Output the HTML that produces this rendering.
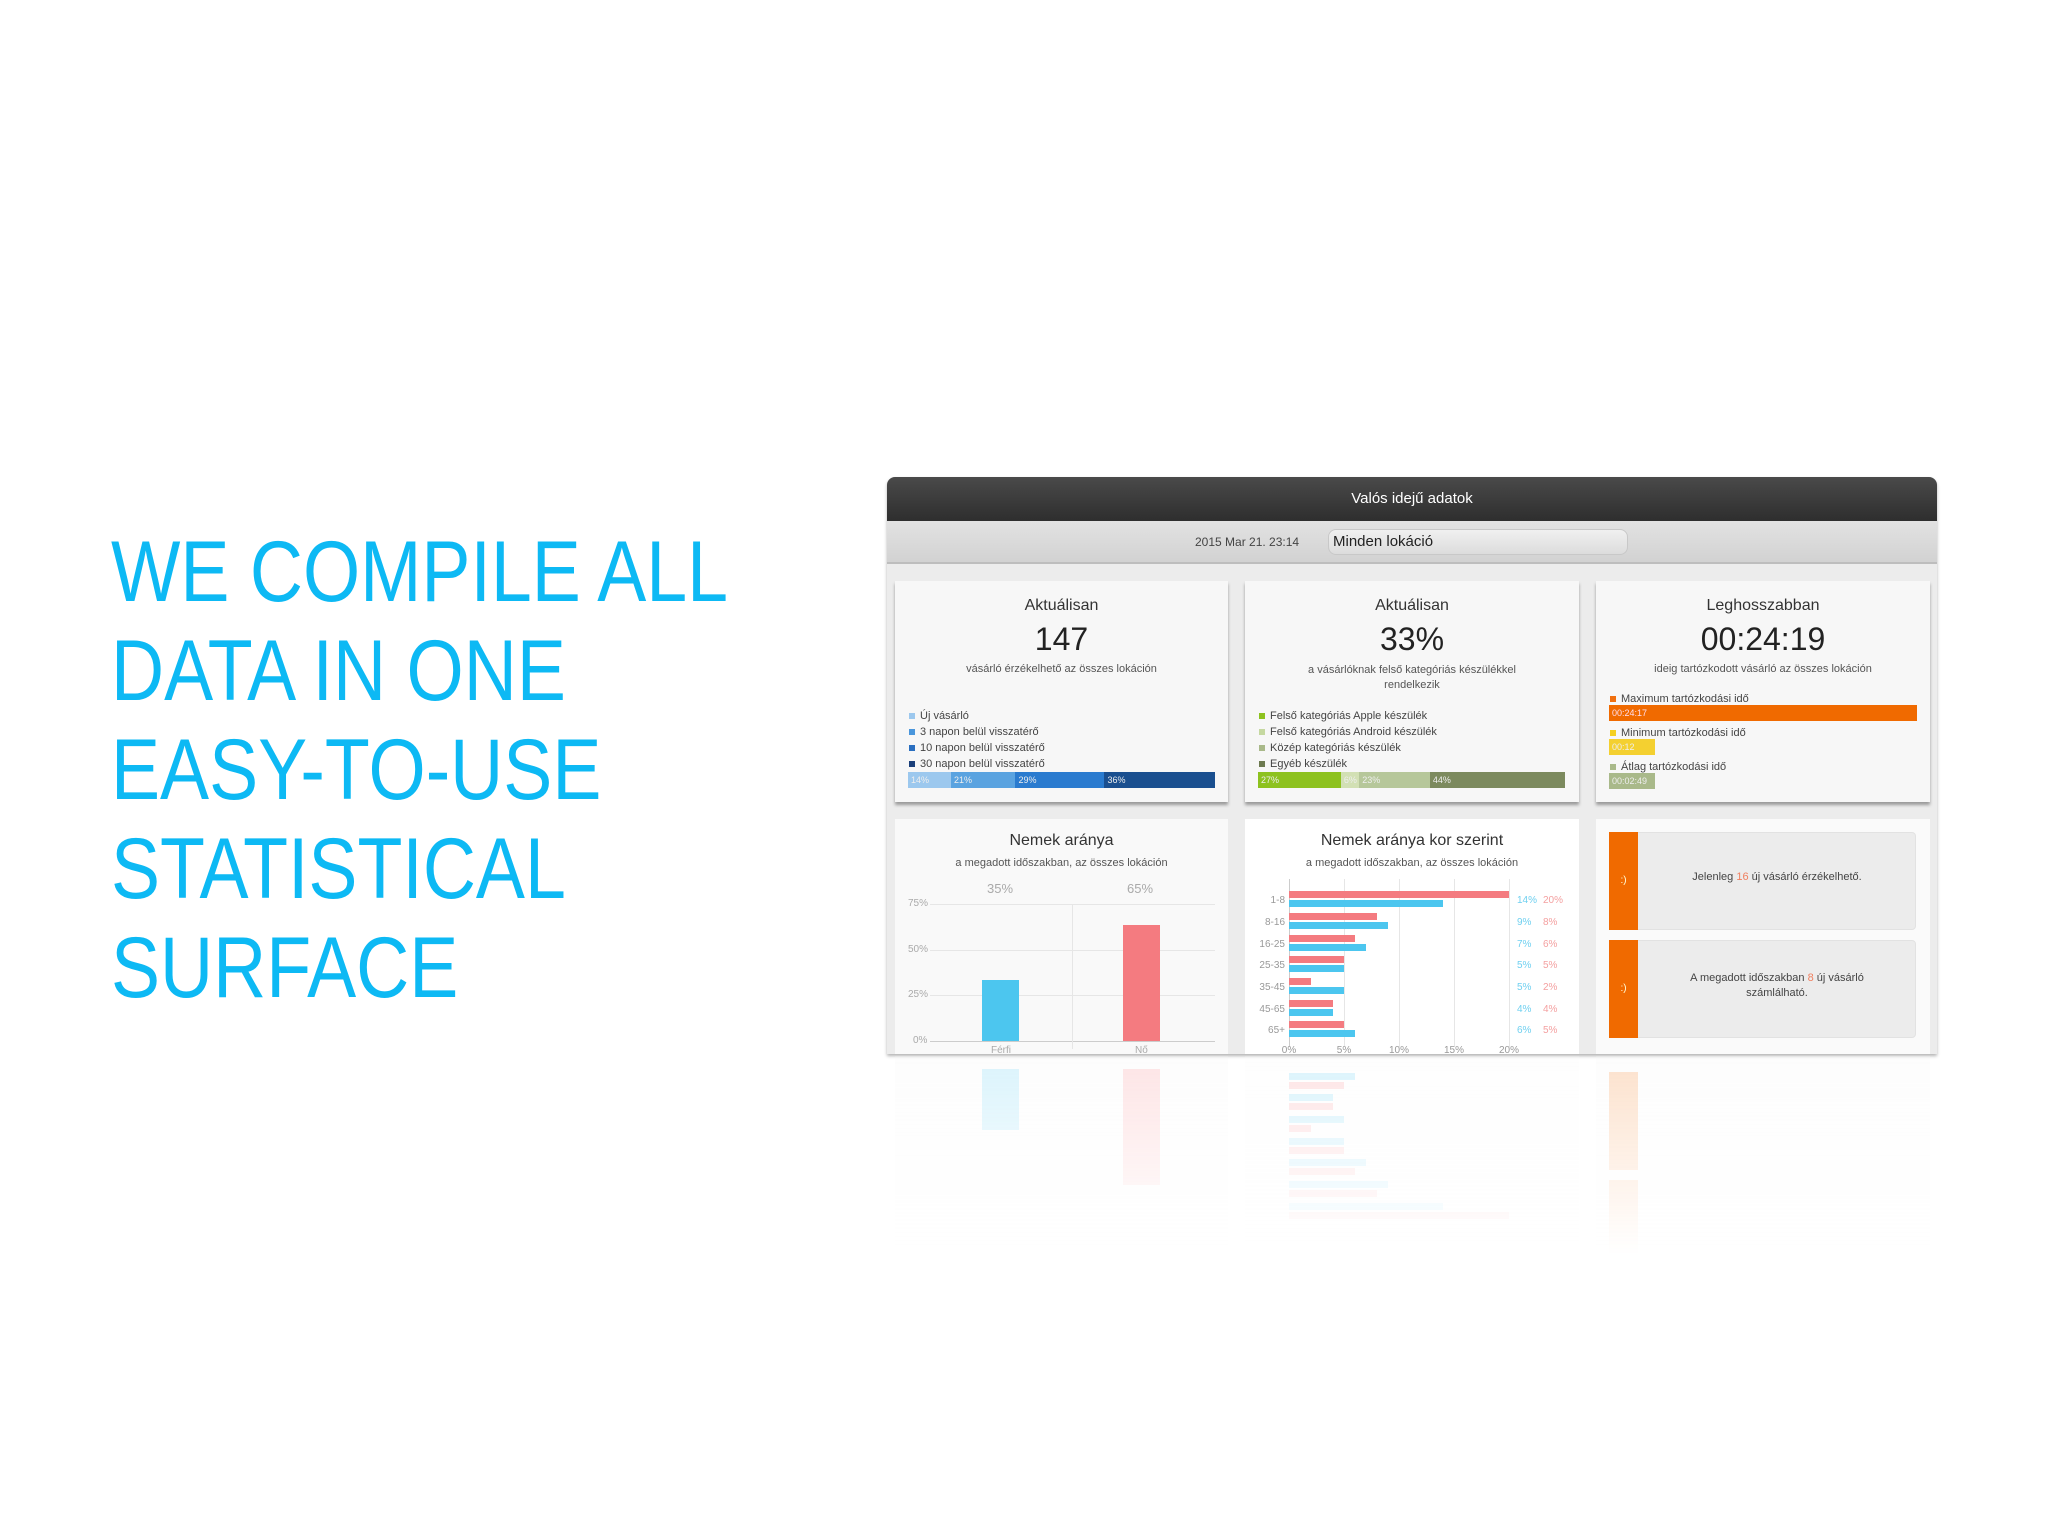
<!DOCTYPE html>
<html><head><meta charset="utf-8"><style>
*{margin:0;padding:0;box-sizing:border-box}
body{width:2048px;height:1536px;background:#fff;position:relative;overflow:hidden;font-family:"Liberation Sans",sans-serif;color:#333}
.t{position:absolute;left:111px;top:523px;font-size:86px;line-height:99px;color:#0db9f4;white-space:nowrap;transform:scaleX(0.855);transform-origin:left top;font-weight:300}
.a{position:absolute}
.card{position:absolute;background:#f7f7f7;box-shadow:0 3px 3px rgba(0,0,0,.35)}
.c{position:absolute;left:0;right:0;text-align:center}
.lg{position:absolute;left:14px;font-size:11px;color:#444}
.lg i{display:inline-block;width:6px;height:6px;margin-right:5px}
.bar{position:absolute;display:flex;height:16px;font-size:9px;color:#eee;line-height:16px}
.bar div{padding-left:3px}
.sm{font-size:11px;color:#555}
.gl{position:absolute;height:1px;background:#e6e6e6}
.vl{position:absolute;width:1px;background:#e6e6e6}
.ax{position:absolute;font-size:10px;color:#aaa}
</style></head><body>
<div class="t">WE COMPILE ALL<br>DATA IN ONE<br>EASY-TO-USE<br>STATISTICAL<br>SURFACE</div>

<div class="a" style="left:887px;top:477px;width:1050px;height:577px;background:#ececec;border-radius:8px 8px 0 0;overflow:hidden;box-shadow:0 2px 3px rgba(0,0,0,.3)">
 <div class="a" style="left:0;top:0;width:1050px;height:44px;background:linear-gradient(#4a4a4a,#2e2e2e);color:#fff;font-size:15px;text-align:center;line-height:44px">Valós idejű adatok</div>
 <div class="a" style="left:0;top:44px;width:1050px;height:43px;background:linear-gradient(#e2e2e2,#d2d2d2);border-bottom:2px solid #bdbdbd"></div>
 <div class="a" style="left:308px;top:58px;font-size:12px;color:#444">2015 Mar 21. 23:14</div>
 <div class="a" style="left:441px;top:52px;width:300px;height:26px;border-radius:8px;background:linear-gradient(#f0f0f0,#dcdcdc);border:1px solid #c8c8c8;font-size:15px;line-height:24px;padding-left:4px;color:#222">Minden lokáció</div>
</div>

<div class="card" style="left:895px;top:581px;width:333px;height:221px">
 <div class="c" style="top:16px;font-size:16px">Aktuálisan</div>
 <div class="c" style="top:40px;font-size:32px;color:#222">147</div>
 <div class="c sm" style="top:82px">vásárló érzékelhető az összes lokáción</div>
 <div class="lg" style="top:129px"><i style="background:#9cc8ee"></i>Új vásárló</div>
 <div class="lg" style="top:145px"><i style="background:#4a96dc"></i>3 napon belül visszatérő</div>
 <div class="lg" style="top:161px"><i style="background:#2a6fc0"></i>10 napon belül visszatérő</div>
 <div class="lg" style="top:177px"><i style="background:#1a3f7a"></i>30 napon belül visszatérő</div>
 <div class="bar" style="left:13px;top:191px;width:307px"><div style="width:14%;background:#9cc8ee">14%</div><div style="width:21%;background:#5aa3e0">21%</div><div style="width:29%;background:#2a7bcf">29%</div><div style="width:36%;background:#1a4f8f">36%</div></div>
</div>
<div class="card" style="left:1245px;top:581px;width:334px;height:221px">
 <div class="c" style="top:16px;font-size:16px">Aktuálisan</div>
 <div class="c" style="top:40px;font-size:32px;color:#222">33%</div>
 <div class="c sm" style="top:82px;line-height:15px">a vásárlóknak felső kategóriás készülékkel<br>rendelkezik</div>
 <div class="lg" style="top:129px"><i style="background:#8dc21f"></i>Felső kategóriás Apple készülék</div>
 <div class="lg" style="top:145px"><i style="background:#c5d8a0"></i>Felső kategóriás Android készülék</div>
 <div class="lg" style="top:161px"><i style="background:#a9b98a"></i>Közép kategóriás készülék</div>
 <div class="lg" style="top:177px"><i style="background:#6d7a50"></i>Egyéb készülék</div>
 <div class="bar" style="left:13px;top:191px;width:307px"><div style="width:27%;background:#8dc21f">27%</div><div style="width:6%;background:#d2e0b4">6%</div><div style="width:23%;background:#b6c79a">23%</div><div style="width:44%;background:#7c8a5e">44%</div></div>
</div>
<div class="card" style="left:1596px;top:581px;width:334px;height:221px">
 <div class="c" style="top:16px;font-size:16px">Leghosszabban</div>
 <div class="c" style="top:40px;font-size:32px;color:#222">00:24:19</div>
 <div class="c sm" style="top:82px">ideig tartózkodott vásárló az összes lokáción</div>
 <div class="lg" style="top:112px"><i style="background:#f07010"></i>Maximum tartózkodási idő</div>
 <div class="bar" style="left:13px;top:124px;width:308px;background:#f06a00;color:#fde"><div>00:24:17</div></div>
 <div class="lg" style="top:146px"><i style="background:#f5d020"></i>Minimum tartózkodási idő</div>
 <div class="bar" style="left:13px;top:158px;width:46px;background:#f4d030"><div>00:12</div></div>
 <div class="lg" style="top:180px"><i style="background:#a9b98a"></i>Átlag tartózkodási idő</div>
 <div class="bar" style="left:13px;top:192px;width:46px;background:#a9b98a"><div>00:02:49</div></div>
</div>

<div class="a" style="left:887px;top:819px;width:1050px;height:235px;overflow:hidden">
 <div class="a" style="left:8px;top:0;width:333px;height:240px;background:#f9f9f9">
  <div class="c" style="top:13px;font-size:16px">Nemek aránya</div>
  <div class="c sm" style="top:38px">a megadott időszakban, az összes lokáción</div>
  <div class="ax" style="left:92px;top:62px;font-size:13px">35%</div>
  <div class="ax" style="left:232px;top:62px;font-size:13px">65%</div>
  <div class="ax" style="left:13px;top:79px">75%</div><div class="gl" style="left:35px;top:85px;width:285px"></div>
  <div class="ax" style="left:13px;top:125px">50%</div><div class="gl" style="left:35px;top:131px;width:285px"></div>
  <div class="ax" style="left:13px;top:170px">25%</div><div class="gl" style="left:35px;top:176px;width:285px"></div>
  <div class="ax" style="left:18px;top:216px">0%</div><div class="gl" style="left:35px;top:222px;width:285px;background:#ccc"></div>
  <div class="vl" style="left:177px;top:85px;height:145px"></div>
  <div class="a" style="left:87px;top:161px;width:37px;height:61px;background:#4cc6ef"></div>
  <div class="a" style="left:228px;top:106px;width:37px;height:116px;background:#f47b80"></div>
  <div class="ax" style="left:96px;top:226px">Férfi</div><div class="ax" style="left:240px;top:226px">Nő</div>
 </div>
 <div class="a" style="left:358px;top:0;width:334px;height:240px;background:#fff">
  <div class="c" style="top:13px;font-size:16px">Nemek aránya kor szerint</div>
  <div class="c sm" style="top:38px">a megadott időszakban, az összes lokáción</div>
  <div class="vl" style="left:44px;top:60px;height:168px;background:#ccc"></div>
  <div class="vl" style="left:99px;top:60px;height:168px"></div>
  <div class="vl" style="left:154px;top:60px;height:168px"></div>
  <div class="vl" style="left:209px;top:60px;height:168px"></div>
  <div class="vl" style="left:264px;top:60px;height:168px"></div>
  <svg class="a" style="left:0;top:0" width="334" height="240" font-family="Liberation Sans" font-size="10">
   <g fill="#f47b80"><rect x="44" y="72" width="220" height="7"/><rect x="44" y="94" width="88" height="7"/><rect x="44" y="116" width="66" height="7"/><rect x="44" y="137" width="55" height="7"/><rect x="44" y="159" width="22" height="7"/><rect x="44" y="181" width="44" height="7"/><rect x="44" y="202" width="55" height="7"/></g>
   <g fill="#4cc6ef"><rect x="44" y="81" width="154" height="7"/><rect x="44" y="103" width="99" height="7"/><rect x="44" y="125" width="77" height="7"/><rect x="44" y="146" width="55" height="7"/><rect x="44" y="168" width="55" height="7"/><rect x="44" y="190" width="44" height="7"/><rect x="44" y="211" width="66" height="7"/></g>
   <g fill="#999" text-anchor="end"><text x="40" y="84">1-8</text><text x="40" y="106">8-16</text><text x="40" y="128">16-25</text><text x="40" y="149">25-35</text><text x="40" y="171">35-45</text><text x="40" y="193">45-65</text><text x="40" y="214">65+</text></g>
   <g fill="#6fd0f0"><text x="272" y="84">14%</text><text x="272" y="106">9%</text><text x="272" y="128">7%</text><text x="272" y="149">5%</text><text x="272" y="171">5%</text><text x="272" y="193">4%</text><text x="272" y="214">6%</text></g>
   <g fill="#f4a0a0"><text x="298" y="84">20%</text><text x="298" y="106">8%</text><text x="298" y="128">6%</text><text x="298" y="149">5%</text><text x="298" y="171">2%</text><text x="298" y="193">4%</text><text x="298" y="214">5%</text></g>
   <g fill="#999" text-anchor="middle"><text x="44" y="234">0%</text><text x="99" y="234">5%</text><text x="154" y="234">10%</text><text x="209" y="234">15%</text><text x="264" y="234">20%</text></g>
  </svg>
 </div>
 <div class="a" style="left:709px;top:0;width:334px;height:240px;background:#fafafa">
  <div class="a" style="left:13px;top:13px;width:307px;height:98px;background:#ececec;border-radius:4px;border:1px solid #e2e2e2"></div>
  <div class="a" style="left:13px;top:13px;width:29px;height:98px;background:#f06a00;color:#ffd;font-size:10px;text-align:center;line-height:98px">:)</div>
  <div class="a" style="left:42px;top:52px;width:278px;text-align:center;font-size:11px;color:#444">Jelenleg <span style="color:#f08060">16</span> új vásárló érzékelhető.</div>
  <div class="a" style="left:13px;top:121px;width:307px;height:98px;background:#ececec;border-radius:4px;border:1px solid #e2e2e2"></div>
  <div class="a" style="left:13px;top:121px;width:29px;height:98px;background:#f06a00;color:#ffd;font-size:10px;text-align:center;line-height:98px">:)</div>
  <div class="a" style="left:42px;top:152px;width:278px;text-align:center;font-size:11px;color:#444;line-height:15px">A megadott időszakban <span style="color:#f08060">8</span> új vásárló<br>számlálható.</div>
 </div>
</div>

<div class="a" style="left:887px;top:1056px;width:1050px;height:200px;overflow:hidden;opacity:.2;-webkit-mask-image:linear-gradient(#000,transparent);mask-image:linear-gradient(#000,transparent)">
 <div class="a" style="left:0;top:0;width:1050px;height:235px;transform:scaleY(-1)">
  <div class="a" style="left:8px;top:0;width:333px;height:235px;background:#f4f4f4"></div>
  <div class="a" style="left:95px;top:161px;width:37px;height:61px;background:#4cc6ef"></div>
  <div class="a" style="left:236px;top:106px;width:37px;height:116px;background:#f47b80"></div>
  <div class="a" style="left:358px;top:0;width:334px;height:235px;background:#f8f8f8"></div>
  <svg class="a" style="left:358px;top:0" width="334" height="235">
   <g fill="#f47b80"><rect x="44" y="72" width="220" height="7"/><rect x="44" y="94" width="88" height="7"/><rect x="44" y="116" width="66" height="7"/><rect x="44" y="137" width="55" height="7"/><rect x="44" y="159" width="22" height="7"/><rect x="44" y="181" width="44" height="7"/><rect x="44" y="202" width="55" height="7"/></g>
   <g fill="#4cc6ef"><rect x="44" y="81" width="154" height="7"/><rect x="44" y="103" width="99" height="7"/><rect x="44" y="125" width="77" height="7"/><rect x="44" y="146" width="55" height="7"/><rect x="44" y="168" width="55" height="7"/><rect x="44" y="190" width="44" height="7"/><rect x="44" y="211" width="66" height="7"/></g>
  </svg>
  <div class="a" style="left:709px;top:0;width:334px;height:235px;background:#f4f4f4"></div>
  <div class="a" style="left:722px;top:13px;width:29px;height:98px;background:#f06a00"></div>
  <div class="a" style="left:722px;top:121px;width:29px;height:98px;background:#f06a00"></div>
 </div>
</div>
</body></html>
